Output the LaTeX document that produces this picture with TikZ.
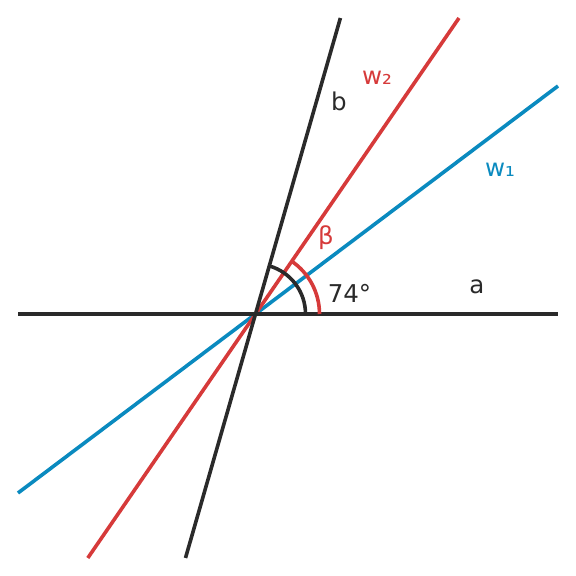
\documentclass[tikz,border=0pt]{standalone}
\usepackage{fontspec}
\setmainfont{DejaVu Sans}
\usetikzlibrary{calc}
\definecolor{ink}{HTML}{2A2A2A}
\definecolor{wred}{HTML}{D63A3A}
\definecolor{wblue}{HTML}{0A8ABF}
\tikzset{
  ln/.style={line width=3.6pt},
  lbl/.style={inner sep=0pt,font=\fontsize{24.5}{28}\selectfont}
}
\begin{document}
\begin{tikzpicture}[x=1pt,y=1pt]
\useasboundingbox (0,0) rectangle (576,576);
\coordinate (O) at (255.5,262);
\coordinate (aL) at (18,262);
\coordinate (aR) at (558,262);
\coordinate (bT) at (340.4,558);
\coordinate (bB) at (185.5,18);
\coordinate (w1L) at (18,83);
\coordinate (w1R) at (558,490);
\coordinate (w2T) at (459,558);
\coordinate (w2B) at (87.8,18);
\draw[ln,wblue] (w1L) -- (w1R);
\draw[ln,wred] (w2B) -- (w2T);
\draw[ln,ink] (aL) -- (aR);
\draw[ln,ink] (bB) -- (bT);
\draw[ln,ink] ($(O)+(50,0)$) arc[start angle=0,end angle=74,radius=50];
\draw[ln,wred] ($(O)+(64,0)$) arc[start angle=0,end angle=55.5,radius=64];
\node[lbl,text=ink] (ang) at (349.5,283) {74°};
\node[lbl,text=wred] (beta) at (326,338) {β};
\node[lbl,text=ink] (la) at (477,289) {a};
\node[lbl,text=ink] (lb) at (339,475) {b};
\node[lbl,text=wred] (lw2) at (377,498) {w₂};
\node[lbl,text=wblue] (lw1) at (500,406) {w₁};
\end{tikzpicture}
\end{document}
